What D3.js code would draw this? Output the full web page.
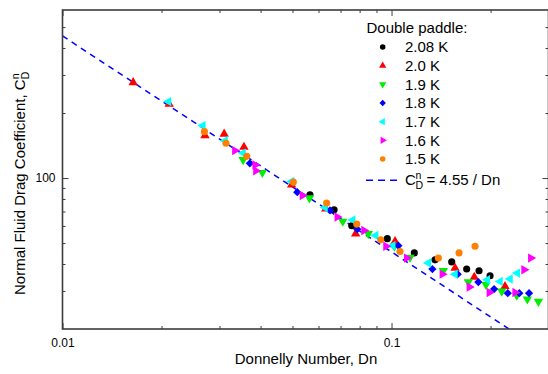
<!DOCTYPE html>
<html><head><meta charset="utf-8">
<script src="https://cdn.jsdelivr.net/npm/d3@7"></script>
<style>
body{margin:0;background:#fff}
svg{display:block}
text{font-family:"Liberation Sans",Arial,Helvetica,sans-serif;fill:#000}
</style>
</head><body>
<svg id="c" width="548" height="374"></svg>
<script>
// ---------------- data ----------------
const dn208 = [0.0565, 0.0669, 0.0757, 0.0971, 0.1173, 0.1356, 0.1524, 0.1692, 0.1845, 0.1993];
const cd208 = [83.7, 71.3, 60.1, 52.4, 45.0, 41.8, 40.9, 37.9, 37.2, 35.3];

const dn200 = [0.0164, 0.0211, 0.0271, 0.0310, 0.0356, 0.0497, 0.0631, 0.0778, 0.1025, 0.1560, 0.1785, 0.2213];
const cd200 = [277, 220, 157.5, 160, 139, 93, 72, 55.2, 50.9, 38.3, 34.8, 31.5];

const dn190 = [0.0354, 0.0405, 0.0563, 0.0711, 0.0850, 0.1020, 0.1138, 0.1437, 0.1712, 0.1937, 0.2163, 0.2402, 0.2587, 0.2795];
const cd190 = [121.5, 106, 80.8, 63, 55.2, 48.3, 42.9, 37.2, 33, 32.1, 29.9, 28.6, 27.5, 26.8];

const dn180 = [0.0371, 0.0517, 0.0650, 0.0787, 0.1049, 0.1331, 0.1589, 0.1836, 0.2050, 0.2256, 0.2446, 0.2618];
const cd180 = [117, 86, 70.8, 58, 48.6, 37.9, 35.9, 33, 30.6, 29.3, 29.3, 29.3];

const dn170 = [0.0210, 0.0267, 0.0312, 0.0354, 0.0497, 0.0628, 0.0762, 0.0895, 0.1008, 0.1294, 0.1560, 0.1955, 0.2137, 0.2292, 0.2412];
const cd170 = [226, 175, 149, 130.5, 96.4, 73, 64, 54.2, 48.6, 40.4, 35.9, 33.8, 33.2, 34.1, 36.3];

const dn160 = [0.0334, 0.0385, 0.0387, 0.0536, 0.0684, 0.0825, 0.0962, 0.1112, 0.1427, 0.1724, 0.1983, 0.2374, 0.2528, 0.2650];
const cd160 = [134, 115, 108, 83, 66, 57.2, 48.3, 42.6, 35.9, 31.3, 29.5, 29.5, 37.6, 42.6];

const dn150 = [0.0270, 0.0314, 0.0363, 0.0503, 0.0635, 0.0784, 0.0927, 0.1061, 0.1388, 0.1604, 0.1794];
const cd150 = [164, 145, 126, 95.8, 76.6, 61.2, 51.8, 45.7, 42.6, 45, 48.3];

const seriesLabels = ["2.08 K", "2.0 K", "1.9 K", "1.8 K", "1.7 K", "1.6 K", "1.5 K"];
const fitCoef = 4.55;
const fitDn = [0.01, 0.3];

const xMajor = [0.01, 0.1];
const xMajorLabels = ["0.01", "0.1"];
const xMinor = [0.02, 0.03, 0.04, 0.05, 0.06, 0.07, 0.08, 0.09, 0.2];
const yMajor = [100];
const yMajorLabels = ["100"];
const yMinor = [30, 40, 50, 60, 70, 80, 90, 200, 300, 400, 500];

// ---------------- layout ----------------
const L = 62.5, R = 548.5, T = 10, B = 329;
const x = d3.scaleLog().domain([0.01, 0.3]).range([L, R]);
const y = d3.scaleLog().domain([20, 600]).range([B, T]);
const svg = d3.select("#c");

const styles = [
  {color: "#000000", shape: "circle"},
  {color: "#ff0000", shape: "up"},
  {color: "#00ee00", shape: "down"},
  {color: "#0000ff", shape: "diamond"},
  {color: "#00ffff", shape: "left"},
  {color: "#ff00ff", shape: "right"},
  {color: "#ff8000", shape: "circle"}
];
const series = [
  [dn208, cd208], [dn200, cd200], [dn190, cd190], [dn180, cd180],
  [dn170, cd170], [dn160, cd160], [dn150, cd150]
];

function symPath(shape, scale) {
  if (shape === "circle") return {d: d3.symbol(d3.symbolCircle, 40 * scale)(), rot: 0};
  if (shape === "diamond") return {d: d3.symbol(d3.symbolSquare, 34 * scale)(), rot: 45};
  const d = d3.symbol(d3.symbolTriangle, 38 * scale)();
  const rot = {up: 0, down: 180, left: -90, right: 90}[shape];
  return {d, rot};
}

// clip
svg.append("clipPath").attr("id", "clip").append("rect")
  .attr("x", L).attr("y", T).attr("width", R - L).attr("height", B - T);

// fit line
const fitLine = d3.line().x(d => x(d)).y(d => y(fitCoef / d));
svg.append("path").attr("clip-path", "url(#clip)")
  .attr("d", fitLine(fitDn))
  .attr("fill", "none").attr("stroke", "#0000ff").attr("stroke-width", 1.5)
  .attr("stroke-dasharray", "6,5");

// markers
const gPts = svg.append("g").attr("clip-path", "url(#clip)");
series.forEach((s, i) => {
  const st = styles[i];
  const sp = symPath(st.shape, 1);
  gPts.append("g").selectAll("path").data(d3.range(s[0].length)).join("path")
    .attr("d", sp.d)
    .attr("transform", j => `translate(${x(s[0][j])},${y(s[1][j])}) rotate(${sp.rot})`)
    .attr("fill", st.color);
});

// axes
const axisColor = "#3c3c3c";
function styleAxis(g) {
  g.select(".domain").remove();
  g.selectAll(".tick line").attr("stroke", axisColor).attr("stroke-width", 1);
  g.selectAll("text").attr("font-size", 12).attr("font-family", '"Liberation Sans",Arial,sans-serif').attr("fill", "#000");
}
// bottom
svg.append("g").attr("transform", `translate(0,${B})`)
  .call(d3.axisBottom(x).tickValues(xMajor).tickSize(-6).tickPadding(9).tickFormat((d, i) => xMajorLabels[i]))
  .call(styleAxis);
svg.append("g").attr("transform", `translate(0,${B})`)
  .call(d3.axisBottom(x).tickValues(xMinor).tickSize(-3).tickFormat(""))
  .call(styleAxis);
// top
svg.append("g").attr("transform", `translate(0,${T})`)
  .call(d3.axisTop(x).tickValues(xMajor).tickSize(-6).tickFormat(""))
  .call(styleAxis);
svg.append("g").attr("transform", `translate(0,${T})`)
  .call(d3.axisTop(x).tickValues(xMinor).tickSize(-3).tickFormat(""))
  .call(styleAxis);
// left
svg.append("g").attr("transform", `translate(${L},0)`)
  .call(d3.axisLeft(y).tickValues(yMajor).tickSize(-6).tickPadding(7).tickFormat((d, i) => yMajorLabels[i]))
  .call(styleAxis);
svg.append("g").attr("transform", `translate(${L},0)`)
  .call(d3.axisLeft(y).tickValues(yMinor).tickSize(-3).tickFormat(""))
  .call(styleAxis);
// right
svg.append("g").attr("transform", `translate(${R},0)`)
  .call(d3.axisRight(y).tickValues(yMajor).tickSize(-6).tickFormat(""))
  .call(styleAxis);
svg.append("g").attr("transform", `translate(${R},0)`)
  .call(d3.axisRight(y).tickValues(yMinor).tickSize(-3).tickFormat(""))
  .call(styleAxis);

// frame
svg.append("rect").attr("x", L).attr("y", T).attr("width", R - L).attr("height", B - T)
  .attr("fill", "none").attr("stroke", axisColor).attr("stroke-width", 1.6);

// axis titles
svg.append("text").attr("x", 306).attr("y", 364)
  .attr("text-anchor", "middle").attr("font-size", 15).text("Donnelly Number, Dn");

const yt = svg.append("text").attr("transform", "translate(25,295) rotate(-90)")
  .attr("font-size", 15);
yt.append("tspan").text("Normal Fluid Drag Coefficient, C");
yt.append("tspan").attr("font-size", 10.5).attr("dy", -6.5).text("n");
yt.append("tspan").attr("font-size", 10.5).attr("dx", -5.8).attr("dy", 10.8).text("D");

// legend
const lg = svg.append("g");
lg.append("text").attr("x", 366.5).attr("y", 33.3).attr("font-size", 15).text("Double paddle:");
const rowY0 = 47, rowStep = 18.67;
seriesLabels.forEach((lab, i) => {
  const cy = rowY0 + i * rowStep;
  const sp = symPath(styles[i].shape, 0.6);
  lg.append("path").attr("d", sp.d)
    .attr("transform", `translate(382.7,${cy}) rotate(${sp.rot})`)
    .attr("fill", styles[i].color);
  lg.append("text").attr("x", 405).attr("y", cy + 5.4).attr("font-size", 15).text(lab);
});
const fy = 180.3;
lg.append("line").attr("x1", 366).attr("x2", 399).attr("y1", fy).attr("y2", fy)
  .attr("stroke", "#0000ff").attr("stroke-width", 1.5).attr("stroke-dasharray", "7,5");
lg.append("text").attr("x", 405).attr("y", 185).attr("font-size", 15).text("C");
lg.append("text").attr("x", 415.5).attr("y", 178.5).attr("font-size", 10.5).text("n");
lg.append("text").attr("x", 415.5).attr("y", 189.3).attr("font-size", 10.5).text("D");
lg.append("text").attr("x", 426.5).attr("y", 185).attr("font-size", 15).text("= " + fitCoef + " / Dn");
</script>
</body></html>
